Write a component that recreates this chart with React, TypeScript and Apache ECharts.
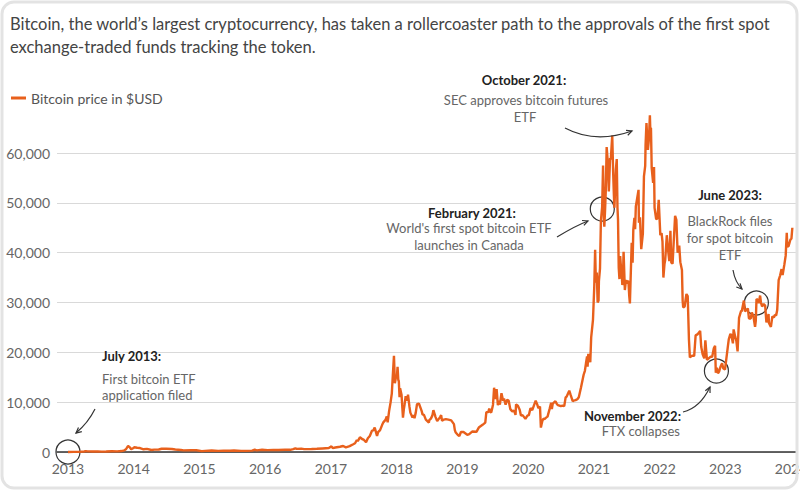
import React, { useEffect, useRef } from "react";
import * as echarts from "echarts";

const TITLE_LINES = [
  "Bitcoin, the world\u2019s largest cryptocurrency, has taken a rollercoaster path to the approvals of the first spot",
  "exchange-traded funds tracking the token.",
];
const SERIES_NAME = "Bitcoin price in $USD";
const X_TICKS = [2013, 2014, 2015, 2016, 2017, 2018, 2019, 2020, 2021, 2022, 2023, 2024];

const btc2013: [string, number][] = [
  ["2013-01-01", 13], ["2013-02-01", 20], ["2013-03-01", 34], ["2013-04-01", 104], ["2013-04-10", 190],
  ["2013-04-20", 120], ["2013-05-15", 115], ["2013-06-15", 100], ["2013-07-06", 70], ["2013-08-01", 100],
  ["2013-09-01", 140], ["2013-10-01", 125], ["2013-10-25", 190], ["2013-11-10", 330], ["2013-11-20", 600],
  ["2013-11-29", 1150], ["2013-12-04", 1150], ["2013-12-10", 950], ["2013-12-18", 550], ["2013-12-28", 750],
];
const btc2014: [string, number][] = [
  ["2014-01-05", 950], ["2014-01-20", 850], ["2014-02-05", 800], ["2014-02-25", 550], ["2014-03-15", 630],
  ["2014-04-10", 400], ["2014-04-25", 480], ["2014-05-20", 500], ["2014-06-05", 650], ["2014-07-01", 640],
  ["2014-08-01", 590], ["2014-08-20", 500], ["2014-09-20", 400], ["2014-10-05", 330], ["2014-11-15", 380],
  ["2014-12-15", 340],
];
const btc2015: [string, number][] = [
  ["2015-01-14", 180], ["2015-02-01", 230], ["2015-03-10", 290], ["2015-04-15", 220], ["2015-05-15", 240],
  ["2015-06-20", 245], ["2015-07-12", 310], ["2015-08-20", 230], ["2015-09-20", 230], ["2015-10-20", 270],
  ["2015-11-04", 450], ["2015-11-15", 330], ["2015-12-15", 450],
];
const btc2016: [string, number][] = [
  ["2016-01-15", 380], ["2016-02-15", 400], ["2016-03-15", 415], ["2016-04-20", 440], ["2016-05-20", 440],
  ["2016-06-05", 580], ["2016-06-17", 750], ["2016-06-25", 630], ["2016-07-20", 670], ["2016-08-05", 580],
  ["2016-09-15", 610], ["2016-10-15", 640], ["2016-11-15", 710], ["2016-12-20", 790],
];
const btc2017: [string, number][] = [
  ["2017-01-04", 1130], ["2017-01-11", 780], ["2017-01-25", 900], ["2017-02-20", 1060], ["2017-03-10", 1200],
  ["2017-03-25", 940], ["2017-04-15", 1180], ["2017-05-05", 1550], ["2017-05-15", 1750], ["2017-05-25", 2400],
  ["2017-05-30", 2200], ["2017-06-11", 2950], ["2017-06-25", 2550], ["2017-07-01", 2500], ["2017-07-15", 1950],
  ["2017-07-25", 2750], ["2017-08-05", 3200], ["2017-08-17", 4300], ["2017-08-25", 4350], ["2017-09-01", 4900],
  ["2017-09-14", 3250], ["2017-09-20", 4000], ["2017-10-01", 4400], ["2017-10-12", 5400], ["2017-10-20", 6000],
  ["2017-10-31", 6450], ["2017-11-07", 7150], ["2017-11-12", 5950], ["2017-11-20", 8200], ["2017-11-28", 9900],
  ["2017-12-05", 11700], ["2017-12-10", 15000], ["2017-12-17", 19300], ["2017-12-22", 13800], ["2017-12-28", 15000],
];
const btc2018: [string, number][] = [
  ["2018-01-02", 15000], ["2018-01-06", 17100], ["2018-01-10", 14500], ["2018-01-13", 14200], ["2018-01-17", 11000],
  ["2018-01-20", 12800], ["2018-01-28", 11500], ["2018-02-05", 6900], ["2018-02-10", 8600], ["2018-02-14", 9500],
  ["2018-02-20", 11200], ["2018-02-28", 10300], ["2018-03-05", 11500], ["2018-03-13", 9100], ["2018-03-18", 7900],
  ["2018-03-30", 6900], ["2018-04-03", 7400], ["2018-04-10", 6800], ["2018-04-17", 7900], ["2018-04-24", 9600],
  ["2018-05-05", 9700], ["2018-05-20", 8200], ["2018-05-25", 7500], ["2018-06-01", 7500], ["2018-06-12", 6500],
  ["2018-06-29", 5900], ["2018-07-01", 6400], ["2018-07-10", 6700], ["2018-07-18", 7300], ["2018-07-24", 8400],
  ["2018-08-05", 7000], ["2018-08-14", 6200], ["2018-08-30", 7000], ["2018-09-05", 7400], ["2018-09-10", 6250],
  ["2018-09-20", 6500], ["2018-10-01", 6600], ["2018-10-15", 6500], ["2018-10-31", 6350], ["2018-11-15", 5600],
  ["2018-11-20", 4400], ["2018-11-25", 3900], ["2018-12-07", 3400], ["2018-12-15", 3200], ["2018-12-24", 4000],
];
const btc2019: [string, number][] = [
  ["2019-01-07", 4000], ["2019-01-28", 3450], ["2019-02-08", 3600], ["2019-02-24", 4100], ["2019-03-20", 4050],
  ["2019-04-02", 4900], ["2019-04-23", 5450], ["2019-05-08", 5900], ["2019-05-14", 8000], ["2019-05-20", 8000],
  ["2019-05-25", 8000], ["2019-05-30", 8700], ["2019-06-03", 8100], ["2019-06-10", 7950], ["2019-06-15", 8700],
  ["2019-06-20", 9500], ["2019-06-26", 12900], ["2019-07-02", 10600], ["2019-07-10", 12600], ["2019-07-17", 9400],
  ["2019-07-22", 10300], ["2019-07-28", 9500], ["2019-08-06", 11800], ["2019-08-15", 10300], ["2019-08-20", 10700],
  ["2019-08-29", 9500], ["2019-09-07", 10500], ["2019-09-15", 10300], ["2019-09-24", 8600], ["2019-10-05", 8150],
  ["2019-10-15", 8300], ["2019-10-23", 7450], ["2019-10-26", 9550], ["2019-11-05", 9300], ["2019-11-15", 8500],
  ["2019-11-22", 7300], ["2019-12-01", 7400], ["2019-12-17", 6650], ["2019-12-28", 7300],
];
const btc2020: [string, number][] = [
  ["2020-01-05", 7400], ["2020-01-14", 8800], ["2020-01-24", 8400], ["2020-02-12", 10300], ["2020-02-20", 9600],
  ["2020-02-27", 8800], ["2020-03-07", 9100], ["2020-03-12", 4900], ["2020-03-15", 5400], ["2020-03-20", 6200],
  ["2020-03-26", 6700], ["2020-04-01", 6600], ["2020-04-10", 6900], ["2020-04-18", 7100], ["2020-04-30", 8700],
  ["2020-05-08", 9900], ["2020-05-12", 8600], ["2020-05-17", 9700], ["2020-06-01", 10200], ["2020-06-08", 9700],
  ["2020-06-15", 9400], ["2020-07-01", 9200], ["2020-07-10", 9300], ["2020-07-20", 9200], ["2020-07-28", 11000],
  ["2020-08-02", 11100], ["2020-08-17", 12300], ["2020-08-25", 11400], ["2020-09-05", 10200], ["2020-09-10", 10300],
  ["2020-09-21", 10400], ["2020-10-01", 10600], ["2020-10-09", 11000], ["2020-10-21", 12900], ["2020-11-05", 15500],
  ["2020-11-12", 16300], ["2020-11-18", 17800], ["2020-11-24", 19200], ["2020-11-27", 17100], ["2020-12-01", 19700],
  ["2020-12-12", 18000], ["2020-12-17", 23000], ["2020-12-27", 26500],
];
const btc2021: [string, number][] = [
  ["2021-01-03", 33000], ["2021-01-08", 40600], ["2021-01-12", 34000], ["2021-01-17", 36000], ["2021-01-22", 30000],
  ["2021-01-27", 30400], ["2021-01-29", 34300], ["2021-02-04", 36800], ["2021-02-09", 46400], ["2021-02-16", 49200],
  ["2021-02-21", 57500], ["2021-02-26", 46300], ["2021-02-28", 45200], ["2021-03-04", 48400], ["2021-03-08", 52300],
  ["2021-03-13", 61200], ["2021-03-19", 58300], ["2021-03-25", 52300], ["2021-04-01", 59000], ["2021-04-05", 58700],
  ["2021-04-13", 63500], ["2021-04-18", 56200], ["2021-04-22", 51700], ["2021-04-25", 49000], ["2021-05-03", 56600],
  ["2021-05-08", 58800], ["2021-05-12", 49000], ["2021-05-15", 46700], ["2021-05-19", 37000], ["2021-05-23", 34700],
  ["2021-05-27", 39300], ["2021-05-31", 37300], ["2021-06-05", 35500], ["2021-06-08", 33500], ["2021-06-12", 35800],
  ["2021-06-15", 40200], ["2021-06-22", 32500], ["2021-06-28", 34500], ["2021-07-02", 33800], ["2021-07-06", 34200],
  ["2021-07-12", 34300], ["2021-07-16", 31500], ["2021-07-20", 29800], ["2021-07-30", 42000], ["2021-08-04", 38000],
  ["2021-08-08", 44600], ["2021-08-14", 47000], ["2021-08-18", 44700], ["2021-08-22", 49300], ["2021-09-06", 52600],
  ["2021-09-08", 46000], ["2021-09-14", 47100], ["2021-09-21", 40700], ["2021-09-30", 43800], ["2021-10-06", 55300],
  ["2021-10-13", 57400], ["2021-10-15", 61600], ["2021-10-20", 66000], ["2021-10-28", 60600], ["2021-11-03", 62900],
  ["2021-11-08", 67550], ["2021-11-10", 65000], ["2021-11-14", 65000], ["2021-11-18", 57000], ["2021-11-26", 54000],
  ["2021-12-01", 57200], ["2021-12-04", 49000], ["2021-12-13", 46700], ["2021-12-20", 46900], ["2021-12-27", 50600],
];
const btc2022: [string, number][] = [
  ["2022-01-05", 43500], ["2022-01-12", 43900], ["2022-01-17", 42200], ["2022-01-22", 35000], ["2022-01-28", 37700],
  ["2022-02-01", 38500], ["2022-02-10", 43500], ["2022-02-17", 40500], ["2022-02-24", 38300], ["2022-03-02", 44400],
  ["2022-03-07", 38000], ["2022-03-14", 37800], ["2022-03-28", 47400], ["2022-04-04", 46600], ["2022-04-11", 40000],
  ["2022-04-20", 41400], ["2022-04-26", 38100], ["2022-05-05", 36500], ["2022-05-09", 30300], ["2022-05-12", 29000],
  ["2022-05-20", 29200], ["2022-05-30", 31700], ["2022-06-06", 31300], ["2022-06-13", 22500], ["2022-06-18", 19000],
  ["2022-06-30", 19300], ["2022-07-01", 19300], ["2022-07-12", 19300], ["2022-07-20", 23400], ["2022-07-30", 23600],
  ["2022-08-14", 24300], ["2022-08-20", 21100], ["2022-08-28", 19600], ["2022-09-06", 18800], ["2022-09-12", 22400],
  ["2022-09-21", 18500], ["2022-10-10", 19100], ["2022-10-20", 19100], ["2022-10-29", 20800], ["2022-11-05", 21300],
  ["2022-11-09", 15900], ["2022-11-15", 16900], ["2022-11-21", 15800], ["2022-11-28", 16200], ["2022-12-05", 17100],
  ["2022-12-14", 17800], ["2022-12-20", 16800], ["2022-12-30", 16550],
];
const btc2023: [string, number][] = [
  ["2023-01-14", 20900], ["2023-01-20", 22600], ["2023-01-29", 23700], ["2023-02-04", 23300], ["2023-02-12", 21800],
  ["2023-02-16", 24600], ["2023-02-25", 23100], ["2023-03-03", 22300], ["2023-03-10", 20200], ["2023-03-18", 26900],
  ["2023-03-30", 28400], ["2023-04-02", 28200], ["2023-04-14", 30400], ["2023-04-20", 28200], ["2023-04-26", 28400],
  ["2023-05-06", 28800], ["2023-05-12", 26800], ["2023-05-22", 26800], ["2023-05-28", 28000], ["2023-06-06", 27200],
  ["2023-06-15", 25100], ["2023-06-19", 26300], ["2023-06-23", 30700], ["2023-06-30", 30500], ["2023-07-06", 29900],
  ["2023-07-13", 31400], ["2023-07-18", 29900], ["2023-07-24", 29200], ["2023-08-02", 29700], ["2023-08-10", 29400],
  ["2023-08-17", 26000], ["2023-08-29", 27700], ["2023-08-31", 25900], ["2023-09-11", 25100], ["2023-09-19", 27200],
  ["2023-09-28", 27000], ["2023-10-02", 27500], ["2023-10-10", 27400], ["2023-10-16", 28500], ["2023-10-24", 34500],
  ["2023-11-01", 35400], ["2023-11-09", 36700], ["2023-11-15", 35500], ["2023-11-25", 37700], ["2023-12-02", 39400],
  ["2023-12-08", 44000], ["2023-12-11", 41200], ["2023-12-18", 41300], ["2023-12-28", 42600], ["2024-01-03", 42800],
  ["2024-01-08", 45000],
];

// annotation circles: [decimal year, price]
const EVENT_POINTS: [number, number][] = [
  [2013.0, 0], [2021.128, 48760], [2021.829, 65820], [2022.864, 16250], [2023.472, 29900],
];

function toDecimalYear(s: string): number {
  const [y, m, d] = s.split("-").map(Number);
  const start = Date.UTC(y, 0, 1);
  const end = Date.UTC(y + 1, 0, 1);
  return y + (Date.UTC(y, m - 1, d) - start) / (end - start);
}

const FONT = "Lato";
const ORANGE = "#e8601c";

function arrow(x1: number, y1: number, cx: number, cy: number, x2: number, y2: number) {
  const dx = x2 - cx, dy = y2 - cy;
  const len = Math.hypot(dx, dy) || 1;
  const ux = dx / len, uy = dy / len;
  const L = 6, a = 0.45;
  const p1 = [x2 - L * (ux * Math.cos(a) - uy * Math.sin(a)), y2 - L * (uy * Math.cos(a) + ux * Math.sin(a))];
  const p2 = [x2 - L * (ux * Math.cos(a) + uy * Math.sin(a)), y2 - L * (uy * Math.cos(a) - ux * Math.sin(a))];
  return [
    { type: "bezierCurve", shape: { x1, y1, x2, y2, cpx1: cx, cpy1: cy }, style: { stroke: "#333", lineWidth: 1.2, fill: null }, z: 20 },
    { type: "polyline", shape: { points: [p1, [x2, y2], p2] }, style: { stroke: "#333", lineWidth: 1.2, fill: null }, z: 20 },
  ];
}

function txt(x: number, y: number, text: string, bold: boolean, align: string = "center") {
  return {
    type: "text", x, y, z: 20,
    style: {
      text, fontFamily: FONT, fontSize: 13, fontWeight: bold ? "bold" : "normal",
      fill: bold ? "#222" : "#666", align, verticalAlign: "middle",
    },
  };
}

export default function App() {
  const ref = useRef<HTMLDivElement>(null);
  useEffect(() => {
    if (!ref.current) return;
    const chart = echarts.init(ref.current, null, { renderer: "svg" });
    const all = [...btc2013, ...btc2014, ...btc2015, ...btc2016, ...btc2017, ...btc2018, ...btc2019, ...btc2020, ...btc2021, ...btc2022, ...btc2023];
    const data = all.map(([d, v]) => [toDecimalYear(d), v]).sort((a, b) => a[0] - b[0]);

    chart.setOption({
      animation: false,
      backgroundColor: "#fff",
      grid: { left: 57, right: 3, top: 153, bottom: 40, containLabel: false, outerBoundsMode: "none" },
      legend: {
        show: true, left: 6, top: 86, icon: "rect", itemWidth: 15, itemHeight: 3, itemGap: 6,
        textStyle: { fontFamily: FONT, fontSize: 14, color: "#555", padding: [0, 0, 0, 0] },
        data: [SERIES_NAME],
      },
      xAxis: {
        type: "value", min: 2012.833, max: 2024.09,
        splitLine: { show: false },
        axisLine: { show: true, lineStyle: { color: "#333", width: 1.5 } },
        axisTick: { show: false },
        axisLabel: {
          customValues: X_TICKS, formatter: (v: number) => String(Math.round(v)),
          fontFamily: FONT, fontSize: 14, color: "#666", margin: 9, showMinLabel: true, showMaxLabel: true,
        },
      },
      yAxis: {
        type: "value", min: 0, max: 60000, interval: 10000,
        axisLine: { show: false }, axisTick: { show: false },
        splitLine: { lineStyle: { color: "#d9d9d9", width: 1 } },
        axisLabel: {
          fontFamily: FONT, fontSize: 14, color: "#666", margin: 7,
          formatter: (v: number) => v.toLocaleString("en-US"),
        },
      },
      series: [{
        name: SERIES_NAME, type: "line", data, showSymbol: false, clip: false,
        lineStyle: { color: ORANGE, width: 2.4 }, itemStyle: { color: ORANGE },
        z: 5,
        markPoint: {
          symbol: "circle", symbolSize: 24, silent: true,
          itemStyle: { color: "rgba(0,0,0,0)", borderColor: "#333", borderWidth: 1.2 },
          label: { show: false },
          data: EVENT_POINTS.map((c) => ({ coord: c })),
        },
      }],
      graphic: [
        { type: "rect", shape: { x: 2, y: 2, width: 795, height: 486, r: 12 }, style: { fill: null, stroke: "#e3e3e3", lineWidth: 3 }, z: 30 },
        { type: "text", x: 10, y: 24, z: 20, style: { text: TITLE_LINES[0], fontFamily: FONT, fontSize: 16.5, fill: "#444", verticalAlign: "middle" } },
        { type: "text", x: 10, y: 47, z: 20, style: { text: TITLE_LINES[1], fontFamily: FONT, fontSize: 16.5, fill: "#444", verticalAlign: "middle" } },
        // July 2013
        txt(102, 356, "July 2013:", true, "left"),
        txt(102, 379, "First bitcoin ETF", false, "left"),
        txt(102, 395, "application filed", false, "left"),
        ...arrow(95, 409, 88, 423, 76, 433),
        // February 2021
        txt(472, 213, "February 2021:", true),
        txt(469, 228, "World's first spot bitcoin ETF", false),
        txt(469, 245, "launches in Canada", false),
        ...arrow(557, 237, 575, 226, 588, 221),
        // October 2021
        txt(524, 80, "October 2021:", true),
        txt(526, 100, "SEC approves bitcoin futures", false),
        txt(525, 117, "ETF", false),
        ...arrow(565, 128, 595, 144, 632, 131),
        // November 2022
        txt(681, 416, "November 2022:", true, "right"),
        txt(680, 431, "FTX collapses", false, "right"),
        ...arrow(683, 412, 700, 408, 710, 387),
        // June 2023
        txt(730, 195, "June 2023:", true),
        txt(730, 221, "BlackRock files", false),
        txt(730, 238, "for spot bitcoin", false),
        txt(730, 255, "ETF", false),
        ...arrow(733, 270, 735, 282, 742, 289),
      ],
    });
    return () => chart.dispose();
  }, []);
  return <div ref={ref} style={{ position: "fixed", left: 0, top: 0, width: 800, height: 492 }} />;
}
